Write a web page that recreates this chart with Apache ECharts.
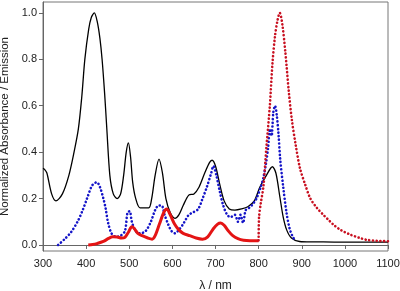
<!DOCTYPE html>
<html>
<head>
<meta charset="utf-8">
<script src="https://cdn.jsdelivr.net/npm/echarts@6/dist/echarts.min.js"></script>
<style>
  html, body { margin: 0; padding: 0; background: #fff; }
  #chart { width: 400px; height: 291px; }
</style>
</head>
<body>
<div id="chart"></div>
<script>
// black solid: absorbance
var absX = [300, 304, 309, 320, 330, 345, 360, 372, 382, 390, 397, 406, 412, 419, 426, 432, 437, 443, 448, 455, 463, 472, 480, 487, 493, 498, 503, 508, 515, 525, 545, 552, 560, 569, 577, 585, 595, 606, 615, 625, 638, 650, 662, 675, 686, 692, 700, 710, 720, 732, 745, 760, 775, 790, 803, 818, 832, 840, 849, 857, 865, 876, 895, 920, 950, 1000, 1050, 1100];
var absY = [0.33, 0.325, 0.31, 0.22, 0.19, 0.22, 0.3, 0.4, 0.5, 0.64, 0.8, 0.93, 0.98, 1.0, 0.96, 0.89, 0.8, 0.65, 0.5, 0.3, 0.22, 0.2, 0.22, 0.3, 0.4, 0.44, 0.38, 0.27, 0.2, 0.16, 0.16, 0.2, 0.3, 0.37, 0.31, 0.2, 0.14, 0.115, 0.13, 0.17, 0.215, 0.22, 0.25, 0.31, 0.355, 0.365, 0.34, 0.26, 0.19, 0.155, 0.15, 0.155, 0.165, 0.19, 0.25, 0.3, 0.337, 0.31, 0.21, 0.12, 0.065, 0.03, 0.015, 0.013, 0.013, 0.012, 0.012, 0.012];

// blue dotted
var blueX = [335, 350, 365, 380, 392, 402, 412, 418, 425, 432, 440, 445, 451, 459, 470, 480, 490, 496, 501, 506, 515, 525, 538, 550, 560, 568, 575, 582, 590, 598, 606, 615, 625, 638, 648, 660, 670, 680, 690, 695, 702, 710, 718, 727, 735, 745, 752, 758, 764, 770, 778, 786, 795, 805, 811, 817, 822, 826, 830, 834, 838, 842, 846, 850, 857, 865, 872, 878, 884];
var blueY = [0.0, 0.025, 0.055, 0.1, 0.15, 0.2, 0.25, 0.265, 0.27, 0.25, 0.2, 0.16, 0.095, 0.05, 0.035, 0.04, 0.06, 0.14, 0.145, 0.1, 0.06, 0.05, 0.06, 0.1, 0.15, 0.17, 0.17, 0.13, 0.09, 0.06, 0.05, 0.065, 0.09, 0.13, 0.14, 0.155, 0.2, 0.25, 0.31, 0.34, 0.3, 0.23, 0.17, 0.13, 0.12, 0.13, 0.1, 0.13, 0.095, 0.15, 0.16, 0.175, 0.2, 0.25, 0.29, 0.35, 0.42, 0.5, 0.47, 0.57, 0.6, 0.56, 0.48, 0.37, 0.25, 0.135, 0.07, 0.04, 0.02];

// red solid (visible emission)
var redX = [405, 415, 425, 440, 452, 462, 472, 482, 490, 498, 506, 512, 520, 530, 543, 553, 560, 570, 580, 587, 595, 605, 615, 625, 640, 655, 670, 682, 695, 705, 712, 720, 730, 740, 752, 765, 780, 800];
var redY = [0.0, 0.002, 0.006, 0.015, 0.028, 0.035, 0.034, 0.03, 0.033, 0.055, 0.078, 0.07, 0.05, 0.04, 0.03, 0.025, 0.04, 0.09, 0.14, 0.155, 0.13, 0.09, 0.065, 0.05, 0.04, 0.03, 0.025, 0.035, 0.07, 0.09, 0.095, 0.085, 0.06, 0.04, 0.027, 0.02, 0.018, 0.018];

// red dotted (NIR emission)
var nirX = [800, 801, 805, 811, 818, 826, 832, 838, 844, 849, 855, 862, 870, 877, 886, 896, 908, 920, 935, 950, 962, 975, 990, 1012, 1035, 1051, 1075, 1100];
var nirY = [0.02, 0.12, 0.18, 0.25, 0.42, 0.6, 0.78, 0.9, 0.97, 1.0, 0.95, 0.83, 0.66, 0.54, 0.43, 0.33, 0.26, 0.2, 0.16, 0.13, 0.108, 0.085, 0.065, 0.045, 0.03, 0.022, 0.018, 0.016];

var yTicks = [0, 0.2, 0.4, 0.6, 0.8, 1.0];

function pairs(xs, ys) {
  return xs.map(function (x, i) { return [x, ys[i]]; });
}

var myChart = echarts.init(document.getElementById('chart'));
var font = 'Liberation Sans, Arial, sans-serif';
var option = {
  backgroundColor: '#fff',
  animation: false,
  grid: {
    left: 43, right: 12, top: 2, bottom: 40,
    outerBoundsMode: 'none',
    show: true, borderColor: '#777', borderWidth: 1
  },
  xAxis: {
    type: 'value',
    min: 300, max: 1100, interval: 100,
    name: 'λ / nm',
    nameLocation: 'middle',
    nameGap: 29,
    nameTextStyle: { fontFamily: font, fontSize: 12, color: '#222' },
    axisLine: { lineStyle: { color: '#666' } },
    axisTick: { show: true, length: 4, lineStyle: { color: '#666' } },
    axisLabel: {
      fontFamily: font, fontSize: 11, color: '#222', margin: 7,
      formatter: function (v) { return String(v); }
    },
    splitLine: { show: false }
  },
  yAxis: {
    type: 'value',
    min: -0.026, max: 1.047,
    name: 'Normalized Absorbance / Emission',
    nameLocation: 'middle',
    nameGap: 28,
    nameTextStyle: { fontFamily: font, fontSize: 11.5, color: '#222' },
    axisLine: { show: true, lineStyle: { color: '#666' } },
    axisTick: { show: true, length: 4, customValues: yTicks, lineStyle: { color: '#666' } },
    axisLabel: {
      fontFamily: font, fontSize: 11, color: '#222', margin: 6,
      customValues: yTicks,
      formatter: function (v) { return v.toFixed(1); }
    },
    splitLine: { show: false }
  },
  series: [
    {
      type: 'line', symbol: 'none', smooth: 0.3,
      lineStyle: { color: '#000', width: 1.3 },
      data: pairs(absX, absY), z: 3
    },
    {
      type: 'line', symbol: 'none', smooth: 0.3,
      lineStyle: { color: '#1414c8', width: 2.6, type: [0.1, 3.6], cap: 'round' },
      data: pairs(blueX, blueY), z: 4
    },
    {
      type: 'line', symbol: 'none', smooth: 0.3,
      lineStyle: { color: '#e41414', width: 3 },
      data: pairs(redX, redY), z: 5
    },
    {
      type: 'line', symbol: 'none', smooth: 0.3,
      lineStyle: { color: '#c81020', width: 2.6, type: [0.1, 3.6], cap: 'round' },
      data: pairs(nirX, nirY), z: 5
    }
  ]
};
option && myChart.setOption(option);
</script>
</body>
</html>
